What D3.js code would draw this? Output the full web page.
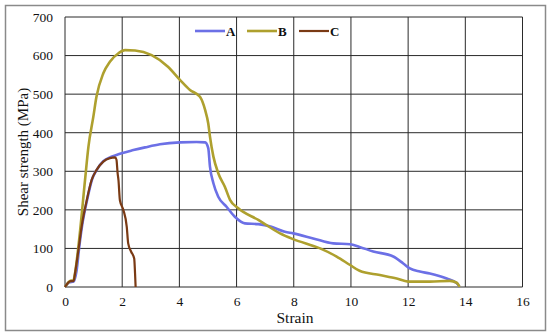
<!DOCTYPE html>
<html>
<head>
<meta charset="utf-8">
<script src="https://cdn.jsdelivr.net/npm/d3@7"></script>
<style>
  body { margin: 0; background: #fff; }
  svg text { font-family: 'Liberation Serif', 'Times New Roman', Times, serif; fill: #111; }
</style>
</head>
<body>
<div id="chart"></div>
<script>
// curves (strain, MPa)
var strainA = [0, 0.15, 0.3, 0.4, 0.5, 0.6, 0.78, 0.95, 1.12, 1.34, 1.57, 1.75, 1.98, 2.39, 2.8, 3.32, 4.02, 4.6, 4.9, 5.01, 5.07, 5.19, 5.36, 5.65, 5.94, 6.29, 6.76, 7.22, 7.69, 7.98, 8.68, 9.38, 9.97, 10.3, 10.78, 11.48, 11.83, 12.06, 12.41, 12.76, 13.35, 13.7, 13.8];
var stressA = [0, 12, 14, 40, 105, 160, 228, 280, 305, 326, 336, 341, 347, 355, 362, 370, 375, 376, 375, 360, 312, 269, 234, 208, 182, 165, 163, 156, 143, 139, 126, 113, 111, 104, 92, 79, 61, 48, 40, 35, 22, 10, 0];

var strainB = [0, 0.17, 0.3, 0.35, 0.52, 0.7, 0.82, 0.99, 1.1, 1.34, 1.57, 1.87, 2.1, 2.45, 3.03, 3.6, 4.02, 4.37, 4.72, 4.9, 5.01, 5.07, 5.19, 5.36, 5.59, 5.77, 6.06, 6.76, 7.52, 7.98, 8.92, 9.5, 9.97, 10.3, 11.01, 11.6, 12, 12.41, 12.76, 13.46, 13.7, 13.8];
var stressB = [0, 15, 18, 36, 140, 277, 364, 441, 493, 554, 584, 606, 614, 613, 601, 571, 537, 511, 493, 459, 424, 390, 338, 295, 260, 226, 204, 174, 139, 124, 100, 79, 57, 42, 31, 22, 14, 14, 14, 16, 11, 0];

var strainC = [0, 0.2, 0.3, 0.35, 0.47, 0.58, 0.76, 0.93, 1.1, 1.34, 1.57, 1.75, 1.8, 1.84, 1.87, 1.92, 2.04, 2.16, 2.21, 2.31, 2.42, 2.45, 2.47];
var stressC = [0, 15, 15, 35, 96, 156, 225, 277, 303, 325, 334, 336, 330, 295, 277, 225, 200, 156, 113, 92, 74, 35, 0];

var seriesNames = ["A", "B", "C"];
var seriesColors = ["#6c70e6", "#aea02e", "#7a3a14"];
var xTicks = [0, 2, 4, 6, 8, 10, 12, 14, 16];
var yTicks = [0, 100, 200, 300, 400, 500, 600, 700];

var serif = "'Liberation Serif', 'Times New Roman', Times, serif";

var W = 550, H = 335;
var margin = {top: 17, right: 27.5, bottom: 48, left: 65};
var width = W - margin.left - margin.right;
var height = H - margin.top - margin.bottom;

var svg = d3.select("#chart").append("svg")
  .attr("width", W).attr("height", H);

// outer frame
svg.append("rect")
  .attr("x", 5.5).attr("y", 5.5).attr("width", 540).attr("height", 325)
  .attr("fill", "none").attr("stroke", "#8a8a8a").attr("stroke-width", 1.5);

var g = svg.append("g")
  .attr("transform", "translate(" + margin.left + "," + margin.top + ")");

var x = d3.scaleLinear().domain([0, 16]).range([0, width]);
var y = d3.scaleLinear().domain([0, 700]).range([height, 0]);

// grid
g.selectAll(".vgrid").data(xTicks).enter().append("line")
  .attr("x1", function(d){ return x(d); }).attr("x2", function(d){ return x(d); })
  .attr("y1", 0).attr("y2", height)
  .attr("stroke", "#2a2a2a").attr("stroke-width", 1);
g.selectAll(".hgrid").data(yTicks).enter().append("line")
  .attr("x1", 0).attr("x2", width)
  .attr("y1", function(d){ return y(d); }).attr("y2", function(d){ return y(d); })
  .attr("stroke", "#2a2a2a").attr("stroke-width", 1);

// axes (labels only)
var xAxis = g.append("g").attr("transform", "translate(0," + height + ")")
  .call(d3.axisBottom(x).tickValues(xTicks).tickSize(0).tickPadding(9));
var yAxis = g.append("g")
  .call(d3.axisLeft(y).tickValues(yTicks).tickSize(0).tickPadding(12));
[xAxis, yAxis].forEach(function(a) {
  a.attr("font-family", serif).attr("font-size", 13.5);
  a.select(".domain").remove();
  a.selectAll("text").attr("fill", "#111");
});

svg.append("text")
  .attr("x", 295).attr("y", 323)
  .attr("text-anchor", "middle")
  .attr("font-family", serif).attr("font-size", 15.5)
  .text("Strain");

svg.append("text")
  .attr("transform", "translate(27.5,152) rotate(-90)")
  .attr("text-anchor", "middle")
  .attr("font-family", serif).attr("font-size", 15)
  .text("Shear strength (MPa)");

// curves
var series = [
  {name: "A", xs: strainA, ys: stressA, w: 2.6},
  {name: "B", xs: strainB, ys: stressB, w: 2.6},
  {name: "C", xs: strainC, ys: stressC, w: 2.2}
];
var line = d3.line()
  .x(function(d){ return x(d[0]); })
  .y(function(d){ return y(d[1]); })
  .curve(d3.curveMonotoneX);

series.forEach(function(s, i) {
  var pts = s.xs.map(function(v, k){ return [v, s.ys[k]]; });
  g.append("path")
    .attr("d", line(pts))
    .attr("fill", "none")
    .attr("stroke", seriesColors[i])
    .attr("stroke-width", s.w)
    .attr("stroke-linejoin", "round");
});

// legend
var leg = svg.append("g").attr("transform", "translate(195,31)");
seriesNames.forEach(function(n, i) {
  var lx = i * 52;
  leg.append("line")
    .attr("x1", lx).attr("x2", lx + 30).attr("y1", 0).attr("y2", 0)
    .attr("stroke", seriesColors[i]).attr("stroke-width", i == 2 ? 2.2 : 2.6);
  leg.append("text")
    .attr("x", lx + 31).attr("y", 4.5)
    .attr("font-family", serif).attr("font-size", 13).attr("font-weight", "bold")
    .text(n);
});
</script>
</body>
</html>
